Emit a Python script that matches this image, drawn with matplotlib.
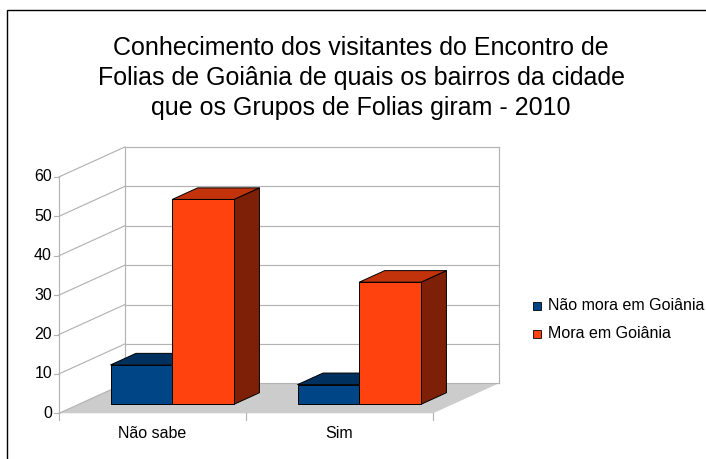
"""
Pseudo-3D clustered bar chart: knowledge of the neighbourhoods visited by
the Folia groups, Goiânia 2010.
"""
import matplotlib
matplotlib.use('Agg')
import matplotlib.pyplot as plt
from matplotlib.patches import Polygon, Rectangle

plt.rcParams['font.family'] = ['Liberation Sans', 'DejaVu Sans']

# --- data ---
categories = ['Não sabe', 'Sim']
series_names = ['Não mora em Goiânia', 'Mora em Goiânia']
nao_mora = [10, 5]
mora = [52, 31]
y_ticks = [0, 10, 20, 30, 40, 50, 60]

title = ('Conhecimento dos visitantes do Encontro de\n'
         'Folias de Goiânia de quais os bairros da cidade\n'
         'que os Grupos de Folias giram - 2010')

# face colours: front, top, side
blue = ('#004586', '#00305e', '#002544')
orange = ('#ff420e', '#c2330b', '#7e2008')
grid_color = '#b3b3b3'
floor_color = '#cccccc'

# --- geometry (pixels of a 706x459 canvas) ---
X0_PX, Y0_PX = 59, 413.3      # front-left corner of the floor
PX_PER_CAT = 187.0
PX_PER_UNIT = 3.94
DEPTH_PX = (66, 30)           # shift of the back wall
DX = DEPTH_PX[0] / PX_PER_CAT
DY = DEPTH_PX[1] / PX_PER_UNIT
BAR_W = 0.33
BAR_F0, BAR_F1 = 0.30, 0.685  # depth span of the bars
LABEL_SIZE = 11.5


def proj(x, y, f):
    """Oblique projection: category x, value y, depth fraction f."""
    return (x + DX * f, y + DY * f)


def px(x, y):
    """Canvas pixels to data coordinates."""
    return ((x - X0_PX) / PX_PER_CAT, (Y0_PX - y) / PX_PER_UNIT)


fig = plt.figure(figsize=(7.06, 4.59), dpi=100)
ax = fig.add_axes([0, 0, 1, 1])
ax.set_xlim(px(0, 0)[0], px(706, 0)[0])
ax.set_ylim(px(0, 459)[1], px(0, 0)[1])
ax.axis('off')

n_cat = len(categories)
y_max = y_ticks[-1]

# floor
ax.add_patch(Polygon([proj(0, 0, 0), proj(n_cat, 0, 0), proj(n_cat, 0, 1), proj(0, 0, 1)],
                     closed=True, fc=floor_color, ec='none', zorder=1))

# back wall and left wall gridlines
lw = 0.85
for v in y_ticks:
    (xa, ya), (xb, yb) = proj(0, v, 1), proj(n_cat, v, 1)
    ax.plot([xa, xb], [ya, yb], color=grid_color, lw=lw, zorder=2)
    (xc, yc) = proj(0, v, 0)
    ax.plot([xc, xa], [yc, ya], color=grid_color, lw=lw, zorder=2)
    # tick and label on the front axis
    ax.plot([xc - 5 / PX_PER_CAT, xc], [yc, yc], color=grid_color, lw=lw, zorder=2)
    ax.text(xc - 7 / PX_PER_CAT, yc, str(v), ha='right', va='center',
            fontsize=LABEL_SIZE, color='black')

for xe in (0, n_cat):
    (xa, ya), (xb, yb) = proj(xe, 0, 1), proj(xe, y_max, 1)
    ax.plot([xa, xb], [ya, yb], color=grid_color, lw=lw, zorder=2)
(xa, ya), (xb, yb) = proj(0, 0, 0), proj(0, y_max, 0)
ax.plot([xa, xb], [ya, yb], color=grid_color, lw=lw, zorder=2)

# category ticks and labels
for i in range(n_cat + 1):
    ax.plot([i, i], [0, -7 / PX_PER_UNIT], color=grid_color, lw=lw, zorder=2)
for i, cat in enumerate(categories):
    ax.text(i + 0.5, px(0, 434)[1], cat, ha='center', va='center', fontsize=LABEL_SIZE)


def draw_bar(x0, h, colors):
    x1 = x0 + BAR_W
    f0, f1 = BAR_F0, BAR_F1
    side = [proj(x1, 0, f0), proj(x1, 0, f1), proj(x1, h, f1), proj(x1, h, f0)]
    top = [proj(x0, h, f0), proj(x1, h, f0), proj(x1, h, f1), proj(x0, h, f1)]
    front = [proj(x0, 0, f0), proj(x1, 0, f0), proj(x1, h, f0), proj(x0, h, f0)]
    for pts, c in ((side, colors[2]), (top, colors[1]), (front, colors[0])):
        ax.add_patch(Polygon(pts, closed=True, fc=c, ec='black', lw=0.7,
                             joinstyle='round', zorder=3))


offset = (1 - 2 * BAR_W) / 2
for i in range(n_cat):
    draw_bar(i + offset, nao_mora[i], blue)
    draw_bar(i + offset + BAR_W, mora[i], orange)

# legend
for name, colors, y_px in zip(series_names, (blue, orange), (306, 334)):
    (lx, ly) = px(533, y_px + 4)
    ax.add_patch(Rectangle((lx, ly), 8 / PX_PER_CAT, 8 / PX_PER_UNIT,
                           fc=colors[0], ec='black', lw=0.6, zorder=3))
    tx, ty = px(548, y_px)
    ax.text(tx, ty, name, ha='left', va='center', fontsize=LABEL_SIZE)

# title
fig.text(361 / 706, 1 - 78 / 459, title, ha='center', va='center',
         fontsize=18, linespacing=1.3)

# frame around the chart area (left and top edges visible)
fig.add_artist(Rectangle((7 / 706, -0.1), 2.0, 1.1 - 10 / 459,
                         transform=fig.transFigure, fill=False,
                         ec='black', lw=1.0))

fig.savefig('out.png', dpi=100)
